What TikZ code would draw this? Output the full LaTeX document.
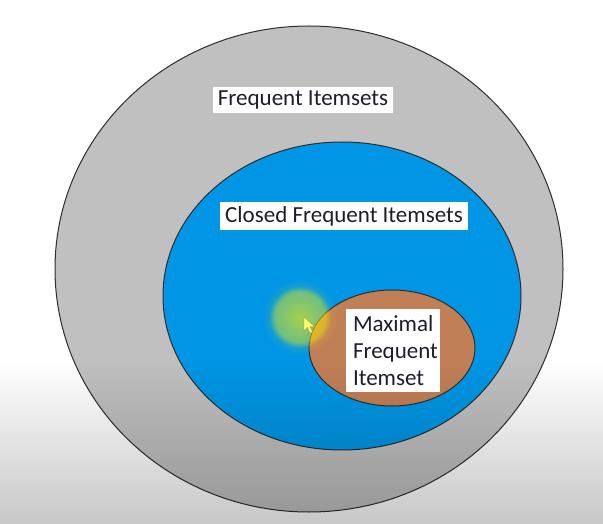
\documentclass[tikz,border=0pt]{standalone}
\usepackage{fontspec}
\setmainfont{Carlito}
\usetikzlibrary{fadings}
\definecolor{setgray}{RGB}{192,192,192}
\definecolor{setblue}{RGB}{0,150,229}
\definecolor{setbrown}{RGB}{193,127,86}
\definecolor{rim}{RGB}{45,45,45}
\definecolor{ink}{RGB}{30,30,40}
\tikzfading[name=glowfade, inner color=transparent!0, outer color=transparent!100]

\begin{document}
\begin{tikzpicture}[x=1pt, y=-1pt,
  outline/.style={draw=rim,line width=1pt},
  tag/.style={fill=white,text=ink,inner sep=0pt,font=\fontsize{23}{27}\selectfont}]
  \useasboundingbox (0,0) rectangle (603,524);
  \fill[white] (0,0) rectangle (603,524);
  % the three nested sets
  \filldraw[setgray,outline] (309,269) ellipse [x radius=254, y radius=243];
  \filldraw[setblue,outline] (342,296) ellipse [x radius=179, y radius=154];
  \filldraw[setbrown,outline] (392,348) ellipse [x radius=83, y radius=58];
  % pointer highlight
  \fill[yellow,opacity=0.35,path fading=circle with fuzzy edge 20 percent] (300,317) circle (31);
  \fill[yellow,opacity=0.45,path fading=glowfade] (300,317) circle (38);
  \filldraw[fill=yellow!55,draw=yellow!60!black,line width=0.4pt]
    (304,317) -- (304,331) -- (307.5,327.5) -- (310,333) -- (312.5,332) -- (310,326.5) -- (314.5,326.5) -- cycle;
  % darker band at the bottom of the frame
  \fill[black,opacity=0.22,path fading=north] (0,360) rectangle (603,524);
  % labels
  \node[tag,minimum width=180,minimum height=26] (freq) at (303,100) {Frequent Itemsets};
  \node[tag,minimum width=248,minimum height=28] (closed) at (344,216) {Closed Frequent Itemsets};
  \node[tag,minimum width=94,minimum height=83,text width=80,align=left] (maximal) at (393,350.5) {Maximal\\Frequent\\Itemset};
\end{tikzpicture}
\end{document}
